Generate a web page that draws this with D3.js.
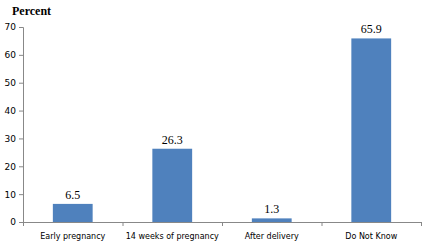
<!DOCTYPE html>
<html>
<head>
<meta charset="utf-8">
<script src="https://cdn.jsdelivr.net/npm/d3@7"></script>
<style>
  body { margin: 0; background: #fff; }
  svg { display: block; }
</style>
</head>
<body>
<svg id="chart" width="428" height="243"></svg>
<script>
const categories = ["Early pregnancy", "14 weeks of pregnancy", "After delivery", "Do Not Know"];
const values = [6.5, 26.3, 1.3, 65.9];
const yTicks = [0, 10, 20, 30, 40, 50, 60, 70];

const svg = d3.select("#chart");
const margin = { left: 23, right: 7, top: 27, bottom: 21 };
const width = 428, height = 243;

const x = d3.scaleBand()
    .domain(categories)
    .range([margin.left, width - margin.right])
    .paddingInner(0.6)
    .paddingOuter(0.3);

const y = d3.scaleLinear()
    .domain([0, 70])
    .range([height - margin.bottom, margin.top]);

// y axis
const yAxis = svg.append("g")
    .attr("transform", `translate(${margin.left},0)`)
    .call(d3.axisLeft(y).tickValues(yTicks).tickSize(4).tickPadding(3));
yAxis.select(".domain").attr("stroke", "#888");
yAxis.selectAll(".tick line").attr("stroke", "#888");
yAxis.selectAll("text")
    .attr("font-family", "Verdana, 'DejaVu Sans', sans-serif")
    .attr("font-size", 9)
    .attr("fill", "#000");

// x axis with ticks at band boundaries
const baseY = y(0);
svg.append("line")
    .attr("x1", margin.left).attr("x2", width - margin.right)
    .attr("y1", baseY + 0.5).attr("y2", baseY + 0.5)
    .attr("stroke", "#888");

const bounds = d3.range(categories.length + 1).map(i => margin.left + i * (width - margin.left - margin.right) / categories.length);
svg.selectAll(".xtick")
    .data(bounds)
    .enter().append("line")
    .attr("x1", d => d + 0.5).attr("x2", d => d + 0.5)
    .attr("y1", baseY).attr("y2", baseY + 4)
    .attr("stroke", "#888");

svg.selectAll(".xlabel")
    .data(categories)
    .enter().append("text")
    .attr("x", d => x(d) + x.bandwidth() / 2)
    .attr("y", baseY + 17)
    .attr("text-anchor", "middle")
    .attr("font-family", "Verdana, 'DejaVu Sans', sans-serif")
    .attr("font-size", 8)
    .text(d => d);

// bars
svg.selectAll(".bar")
    .data(values)
    .enter().append("rect")
    .attr("x", (d, i) => x(categories[i]))
    .attr("y", d => y(d))
    .attr("width", x.bandwidth())
    .attr("height", d => baseY - y(d))
    .attr("fill", "#4f81bd");

// value labels
svg.selectAll(".val")
    .data(values)
    .enter().append("text")
    .attr("x", (d, i) => x(categories[i]) + x.bandwidth() / 2)
    .attr("y", d => y(d) - 5)
    .attr("text-anchor", "middle")
    .attr("font-family", "'Liberation Serif', 'Times New Roman', serif")
    .attr("font-size", 12)
    .text(d => d.toFixed(1));

// title
svg.append("text")
    .attr("x", 12)
    .attr("y", 15)
    .attr("font-family", "'Liberation Serif', 'Times New Roman', serif")
    .attr("font-weight", "bold")
    .attr("font-size", 12)
    .text("Percent");
</script>
</body>
</html>
